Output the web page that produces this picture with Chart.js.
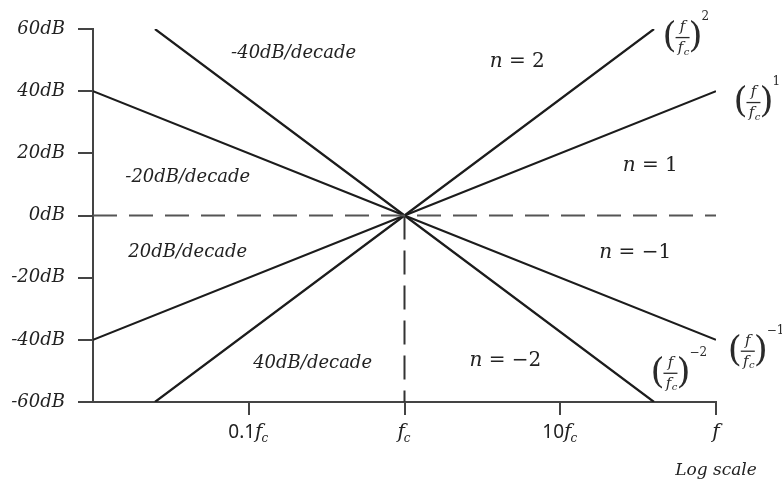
<!DOCTYPE html>
<html>
<head>
<meta charset="utf-8">
<script src="https://cdn.jsdelivr.net/npm/chart.js@4/dist/chart.umd.min.js"></script>
<style>
  body { margin: 0; background: #fff; }
</style>
</head>
<body>
<canvas id="bodeChart" width="782" height="482"></canvas>
<script>
// frequency in multiples of fc, gain in dB
const gainTicks = [-60, -40, -20, 0, 20, 40, 60];
const freqTicks = [0.1, 1, 10, 100];
const freqTickPrefix = ['0.1', '', '10', ''];
const freqTickSub = ['c', 'c', 'c', ''];

const nPlus2Freq = [0.025, 1, 40];
const nPlus2Gain = [-60, 0, 60];
const nPlus1Freq = [0.01, 1, 100];
const nPlus1Gain = [-40, 0, 40];
const nMinus1Freq = [0.01, 1, 100];
const nMinus1Gain = [40, 0, -40];
const nMinus2Freq = [0.025, 1, 40];
const nMinus2Gain = [60, 0, -60];

const zeroFreq = [0.01, 100];
const zeroGain = [0, 0];
const cornerFreq = [1, 1];
const cornerGain = [0, -60];

// text notes, placed in (freq, dB)
const slopeNotes = ['-40dB/decade', '-20dB/decade', '20dB/decade', '40dB/decade'];
const slopeNoteFreq = [0.194, 0.0406, 0.0406, 0.257];
const slopeNoteGain = [52.3, 12.3, -11.9, -47.7];

const orderNotes = ['2', '1', '\u22121', '\u22122'];
const orderNoteFreq = [5.3, 37.8, 30.3, 4.44];
const orderNoteGain = [49.4, 16.1, -11.9, -46.8];

const fracExp = ['2', '1', '\u22122', '\u22121'];
const fracFreq = [61, 174, 51, 160];
const fracGain = [57.4, 36.5, -50.6, -43.5];

const pts = (xs, ys) => xs.map((x, i) => ({ x: x, y: ys[i] }));

const ink = '#1c1c1c';
const axisInk = '#444';
const serifItalic = (size) => 'italic ' + size + 'px "DejaVu Serif"';

function drawFraction(ctx, cx, cy, exp) {
  ctx.save();
  ctx.fillStyle = '#2a2a2a';
  ctx.strokeStyle = '#2a2a2a';
  ctx.textBaseline = 'middle';
  ctx.textAlign = 'center';
  ctx.font = '36px "DejaVu Serif"';
  ctx.fillText('(', cx - 13, cy + 1);
  ctx.fillText(')', cx + 13, cy + 1);
  ctx.font = serifItalic(15);
  ctx.fillText('f', cx, cy - 10);
  ctx.fillText('f', cx - 2, cy + 11);
  ctx.font = serifItalic(10);
  ctx.fillText('c', cx + 4, cy + 15);
  ctx.lineWidth = 1.3;
  ctx.beginPath();
  ctx.moveTo(cx - 7, cy + 0.5);
  ctx.lineTo(cx + 7, cy + 0.5);
  ctx.stroke();
  ctx.textAlign = 'left';
  ctx.font = '12px "DejaVu Serif"';
  ctx.fillText(exp, cx + 19, cy - 20);
  ctx.restore();
}

const notesPlugin = {
  id: 'notes',
  afterDraw(chart) {
    const { ctx, scales: { x, y } } = chart;
    ctx.save();
    ctx.fillStyle = '#222';
    ctx.textBaseline = 'middle';

    // slope labels
    ctx.textAlign = 'center';
    ctx.font = serifItalic(18);
    slopeNotes.forEach((t, i) => {
      ctx.fillText(t, x.getPixelForValue(slopeNoteFreq[i]), y.getPixelForValue(slopeNoteGain[i]));
    });

    // n = ... labels
    orderNotes.forEach((t, i) => {
      const cx = x.getPixelForValue(orderNoteFreq[i]);
      const cy = y.getPixelForValue(orderNoteGain[i]);
      const rest = ' = ' + t;
      ctx.font = serifItalic(20);
      const wn = ctx.measureText('n').width;
      ctx.font = '20px "DejaVu Serif"';
      const wr = ctx.measureText(rest).width;
      const left = cx - (wn + wr) / 2;
      ctx.textAlign = 'left';
      ctx.font = serifItalic(20);
      ctx.fillText('n', left, cy);
      ctx.font = '20px "DejaVu Serif"';
      ctx.fillText(rest, left + wn, cy);
    });

    // (f/fc)^n labels
    fracExp.forEach((e, i) => {
      drawFraction(ctx, x.getPixelForValue(fracFreq[i]), y.getPixelForValue(fracGain[i]), e);
    });

    // frequency tick labels
    const ty = y.getPixelForValue(-60) + 31;
    freqTicks.forEach((v, i) => {
      const px = x.getPixelForValue(v);
      ctx.font = '19px "Noto Sans"';
      const wp = ctx.measureText(freqTickPrefix[i]).width;
      ctx.font = serifItalic(20);
      const wf = ctx.measureText('f').width;
      ctx.font = serifItalic(12);
      const ws = freqTickSub[i] ? ctx.measureText(freqTickSub[i]).width : 0;
      let left = px - (wp + wf + ws) / 2;
      ctx.textAlign = 'left';
      ctx.font = '19px "Noto Sans"';
      ctx.fillText(freqTickPrefix[i], left, ty);
      left += wp;
      ctx.font = serifItalic(20);
      ctx.fillText('f', left, ty);
      left += wf;
      if (freqTickSub[i]) {
        ctx.font = serifItalic(12);
        ctx.fillText(freqTickSub[i], left - 1, ty + 6);
      }
    });

    ctx.textAlign = 'center';
    ctx.font = serifItalic(17);
    ctx.fillText('Log scale', x.getPixelForValue(100), ty + 38);
    ctx.restore();
  }
};

const solid = (data) => ({
  data: data,
  borderColor: ink,
  borderWidth: 2.2,
  pointRadius: 0,
  tension: 0
});

new Chart(document.getElementById('bodeChart'), {
  type: 'line',
  data: {
    datasets: [
      { data: pts(zeroFreq, zeroGain), borderColor: '#555', borderWidth: 2, borderDash: [24, 12], pointRadius: 0 },
      { data: pts(cornerFreq, cornerGain), borderColor: '#333', borderWidth: 2, borderDash: [24, 11], pointRadius: 0 },
      solid(pts(nPlus2Freq, nPlus2Gain)),
      solid(pts(nPlus1Freq, nPlus1Gain)),
      solid(pts(nMinus1Freq, nMinus1Gain)),
      solid(pts(nMinus2Freq, nMinus2Gain))
    ]
  },
  options: {
    responsive: false,
    animation: false,
    layout: { padding: { top: 29, right: 66, left: 0, bottom: 0 } },
    plugins: {
      legend: { display: false },
      tooltip: { enabled: false }
    },
    scales: {
      x: {
        type: 'logarithmic',
        min: 0.01,
        max: 100,
        afterBuildTicks: (scale) => { scale.ticks = freqTicks.map(v => ({ value: v })); },
        afterFit: (scale) => { scale.height = 80; },
        ticks: { display: false },
        grid: { drawOnChartArea: false, drawTicks: true, tickLength: 13, color: axisInk, lineWidth: 2 },
        border: { display: true, color: axisInk, width: 2 }
      },
      y: {
        min: -60,
        max: 60,
        afterBuildTicks: (scale) => { scale.ticks = gainTicks.map(v => ({ value: v })); },
        afterFit: (scale) => { scale.width = 93; },
        ticks: {
          padding: 13,
          color: '#222',
          font: { family: 'DejaVu Serif', style: 'italic', size: 18 },
          callback: (v) => v + 'dB'
        },
        grid: { drawOnChartArea: false, drawTicks: true, tickLength: 15, color: axisInk, lineWidth: 2 },
        border: { display: true, color: axisInk, width: 2 }
      }
    }
  },
  plugins: [notesPlugin]
});
</script>
</body>
</html>
